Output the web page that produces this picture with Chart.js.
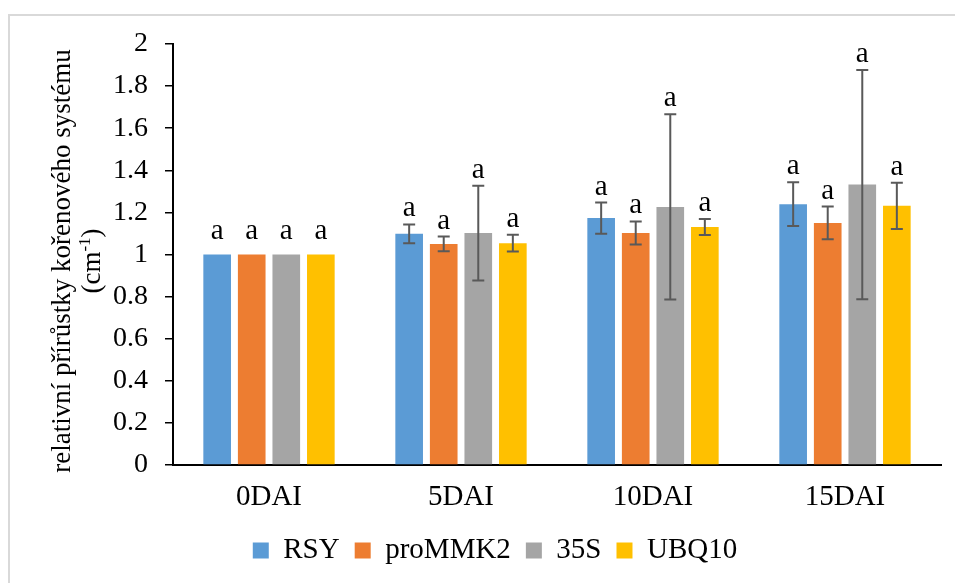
<!DOCTYPE html>
<html>
<head>
<meta charset="utf-8">
<script src="https://cdn.jsdelivr.net/npm/chart.js@4"></script>
<style>
  body { margin: 0; background: #fff; overflow: hidden; }
  #frame { position: absolute; left: 8px; top: 14px; width: 980px; height: 620px; border: 2px solid #d9d9d9; box-sizing: border-box; }
  #wrap { position: absolute; left: 0; top: 0; width: 955px; height: 583px; }
</style>
</head>
<body>
<div id="frame"></div>
<div id="wrap"><canvas id="grafico" width="955" height="583"></canvas></div>
<script>
const kategorie = ["0DAI", "5DAI", "10DAI", "15DAI"];
const serie = ["RSY", "proMMK2", "35S", "UBQ10"];
const barvy = ["#5B9BD5", "#ED7D31", "#A5A5A5", "#FFC000"];

const rsy = [1.0, 1.098, 1.173, 1.239];
const proMMK2 = [1.0, 1.050, 1.102, 1.150];
const s35 = [1.0, 1.102, 1.226, 1.332];
const ubq10 = [1.0, 1.054, 1.131, 1.231];

const chybaRsy = [0, 0.045, 0.074, 0.104];
const chybaProMMK2 = [0, 0.035, 0.055, 0.078];
const chybaS35 = [0, 0.225, 0.44, 0.544];
const chybaUbq10 = [0, 0.04, 0.038, 0.11];

const pismena = ["a", "a", "a", "a"];

const hodnoty = [rsy, proMMK2, s35, ubq10];
const chyby = [chybaRsy, chybaProMMK2, chybaS35, chybaUbq10];

const pismo = "'Liberation Serif', 'Times New Roman', serif";

const chybovePlugin = {
    id: "chyby",
    afterDatasetsDraw(chart) {
        const ctx = chart.ctx;
        const y = chart.scales.y;
        ctx.save();
        chart.data.datasets.forEach((ds, i) => {
            const meta = chart.getDatasetMeta(i);
            meta.data.forEach((bar, j) => {
                const v = ds.data[j];
                const e = chyby[i][j];
                const x = bar.x;
                const yTop = y.getPixelForValue(v + e);
                const yBot = y.getPixelForValue(v - e);
                if (e > 0) {
                    ctx.strokeStyle = "#595959";
                    ctx.lineWidth = 2;
                    ctx.beginPath();
                    ctx.moveTo(x, yTop);
                    ctx.lineTo(x, yBot);
                    ctx.moveTo(x - 6, yTop);
                    ctx.lineTo(x + 6, yTop);
                    ctx.moveTo(x - 6, yBot);
                    ctx.lineTo(x + 6, yBot);
                    ctx.stroke();
                }
                ctx.fillStyle = "#000";
                ctx.font = "29px " + pismo;
                ctx.textAlign = "center";
                ctx.textBaseline = "alphabetic";
                const base = e > 0 ? yTop - 8 : bar.y - 16;
                ctx.fillText(pismena[j], x, base);
            });
        });
        ctx.restore();
    }
};

const nadpisOsy = {
    id: "nadpisOsy",
    afterDraw(chart) {
        const ctx = chart.ctx;
        ctx.save();
        ctx.translate(0, 261);
        ctx.rotate(-Math.PI / 2);
        ctx.fillStyle = "#000";
        ctx.textBaseline = "alphabetic";
        ctx.textAlign = "center";
        ctx.font = "27px " + pismo;
        ctx.fillText("relativní přírůstky kořenového systému", 0, 70);

        const a = "(cm", b = "-1", c = ")";
        ctx.textAlign = "left";
        const wa = ctx.measureText(a).width;
        const wc = ctx.measureText(c).width;
        ctx.font = "17px " + pismo;
        const wb = ctx.measureText(b).width;
        let x0 = -(wa + wb + wc) / 2;
        ctx.font = "27px " + pismo;
        ctx.fillText(a, x0, 100);
        ctx.font = "17px " + pismo;
        ctx.fillText(b, x0 + wa, 90);
        ctx.font = "27px " + pismo;
        ctx.fillText(c, x0 + wa + wb, 100);
        ctx.restore();
    }
};

const ctx = document.getElementById("grafico").getContext("2d");

new Chart(ctx, {
    type: "bar",
    data: {
        labels: kategorie,
        datasets: serie.map((nazev, i) => ({
            label: nazev,
            data: hodnoty[i],
            backgroundColor: barvy[i],
            borderWidth: 0,
            barPercentage: 0.8,
            categoryPercentage: 0.72
        }))
    },
    options: {
        responsive: false,
        devicePixelRatio: 1,
        animation: false,
        layout: { padding: { left: 49, right: 14, top: 44, bottom: 8 } },
        plugins: {
            legend: {
                position: "bottom",
                labels: {
                    boxWidth: 16,
                    boxHeight: 16,
                    padding: 15,
                    color: "#000",
                    font: { family: pismo, size: 29 }
                }
            },
            tooltip: { enabled: false }
        },
        scales: {
            x: {
                grid: { display: false, drawTicks: false },
                border: { color: "#000", width: 2 },
                ticks: { color: "#000", padding: 15, font: { family: pismo, size: 29 } },
                afterFit(scale) { scale.height = 56; }
            },
            y: {
                min: 0,
                max: 2,
                ticks: {
                    stepSize: 0.2,
                    color: "#000",
                    padding: 17,
                    font: { family: pismo, size: 28 },
                    callback: v => String(Math.round(v * 10) / 10)
                },
                grid: { drawOnChartArea: false, drawTicks: true, tickLength: 8, color: "#000", lineWidth: 1.5 },
                border: { color: "#000", width: 2 },
                afterFit(scale) { scale.width = 124; }
            }
        }
    },
    plugins: [chybovePlugin, nadpisOsy]
});
</script>
</body>
</html>
